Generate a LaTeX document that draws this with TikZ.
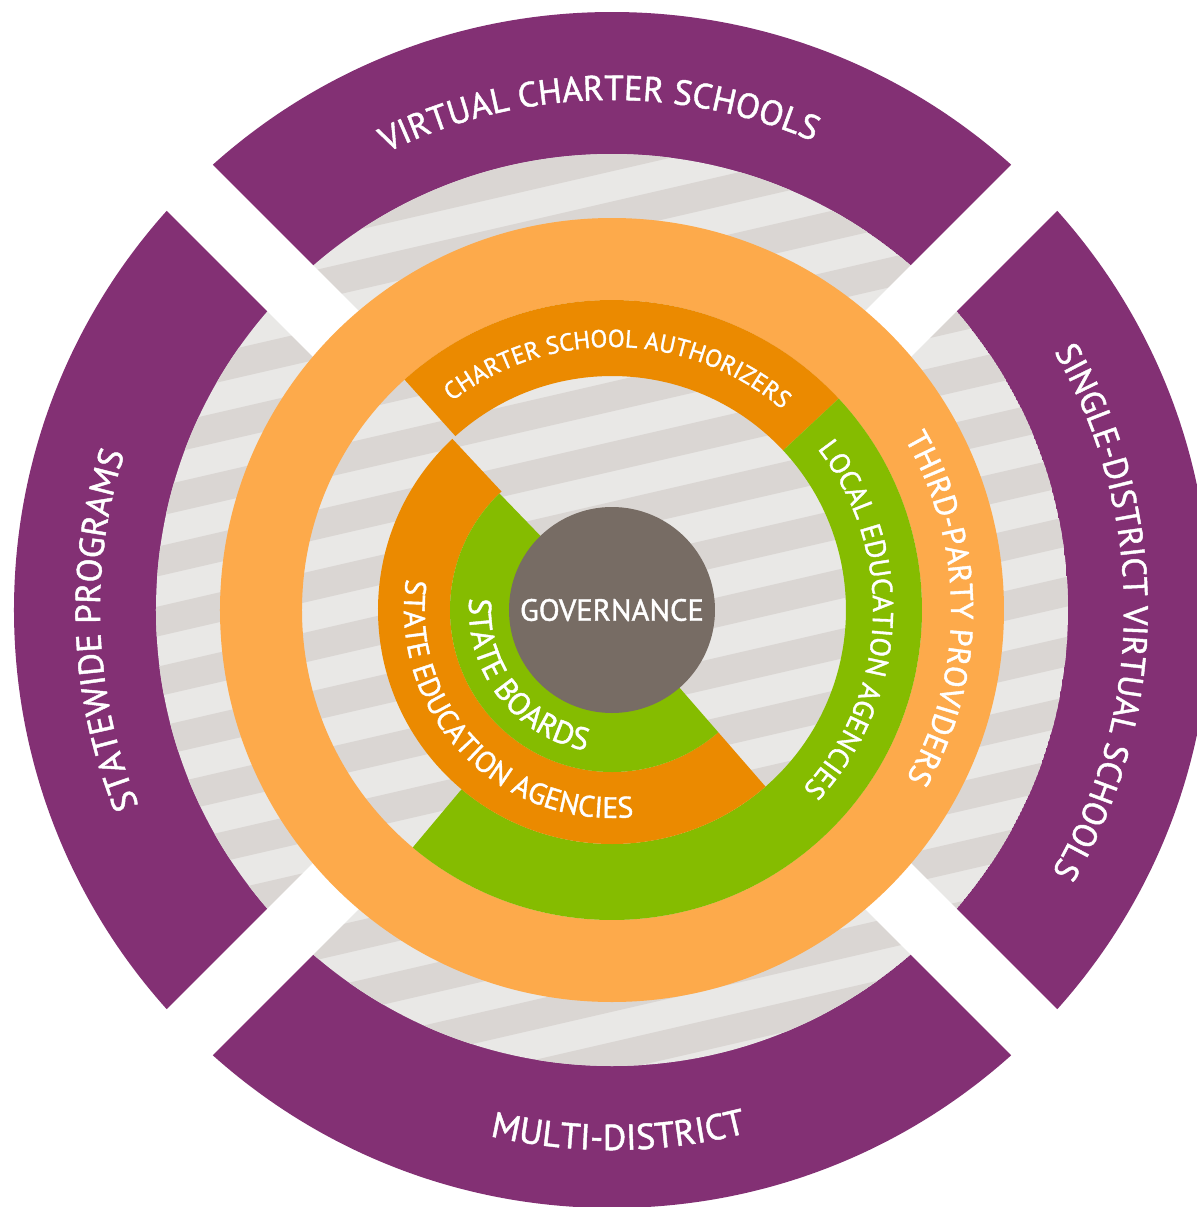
\documentclass[tikz,border=0pt]{standalone}
\usepackage{fontspec}
\setmainfont{PT Sans}[FakeBold=1.3]
\usepackage{xcolor}
\usetikzlibrary{decorations.text}

\definecolor{plum}{HTML}{833074}
\definecolor{apricot}{HTML}{FDAA4B}
\definecolor{amber}{HTML}{EB8A00}
\definecolor{leaf}{HTML}{85BC00}
\definecolor{taupe}{HTML}{776C64}
\definecolor{stripeLight}{HTML}{E9E8E6}
\definecolor{stripeDark}{HTML}{DAD6D3}

\begin{document}
\begin{tikzpicture}[x=0.5pt, y=0.5pt]

\tikzset
  {
    myGap/.style=    {white, line width=32.5pt},
    myArcText/.style={decorate, decoration={text along path, text align=center, text color=white, text={#1}}}
  }

\useasboundingbox (-612,-597) rectangle (585,610);
\fill[white] (-612,-597) rectangle (585,610);

% purple ring
\fill[plum] (0,0) circle (598);

% striped disk
\begin{scope}
\clip (0,0) circle (456);
\fill[stripeLight] (0,0) circle (456);
\begin{scope}[rotate=13]
\foreach \k in {-9,...,9}
\fill[stripeDark] (-480,18+58.5*\k) rectangle (480,47+58.5*\k);
\end{scope}
\end{scope}

% gaps
\foreach \a in {45,135,225,315}
\draw[myGap] (\a:380) -- (\a:700);

% third-party providers
\fill[apricot, even odd rule] (0,0) circle (392) circle (310);

% charter / local
\fill[amber] (43:234) arc[start angle=43, end angle=132, radius=234] -- (132:310) arc[start angle=132, end angle=43, radius=310] -- cycle;
\fill[leaf] (-130:234) arc[start angle=-130, end angle=43, radius=234] -- (43:310) arc[start angle=43, end angle=-130, radius=310] -- cycle;

% state agencies / boards
\fill[amber] (133:162) arc[start angle=133, end angle=311, radius=162] -- (311:234) arc[start angle=311, end angle=133, radius=234] -- cycle;
\fill[leaf] (134:95) arc[start angle=134, end angle=311, radius=95] -- (311:162) arc[start angle=311, end angle=134, radius=162] -- cycle;

\node[circle, fill=taupe, minimum size=103pt, inner sep=0pt, text=white, font=\fontsize{15.3}{18}\selectfont] (gov) at (0,0) {GOVERNANCE};

% outer labels
\path[myArcText={|\fontsize{17.5}{20}\selectfont|VIRTUAL CHARTER SCHOOLS}] (141.5:510) arc[start angle=141.5, end angle=41.5, radius=510];
\path[myArcText={|\fontsize{17}{20}\selectfont|SINGLE-DISTRICT VIRTUAL SCHOOLS}] (49.75:512) arc[start angle=49.75, end angle=-50.25, radius=512];
\path[myArcText={|\fontsize{18}{20}\selectfont|MULTI-DISTRICT}] (220.7:540) arc[start angle=220.7, end angle=320.7, radius=540];
\path[myArcText={|\fontsize{17.5}{20}\selectfont|STATEWIDE PROGRAMS}] (232.3:512) arc[start angle=232.3, end angle=132.3, radius=512];

% inner labels
\path[myArcText={|\fontsize{12.3}{14}\selectfont|CHARTER SCHOOL AUTHORIZERS}] (148.6:263) arc[start angle=148.6, end angle=28.6, radius=263];
\path[myArcText={|\fontsize{15.8}{18}\selectfont|THIRD-PARTY PROVIDERS}] (60.3:339) arc[start angle=60.3, end angle=-59.7, radius=339];
\path[myArcText={|\fontsize{14.3}{16}\selectfont|LOCAL EDUCATION AGENCIES}] (67.5:261) arc[start angle=67.5, end angle=-72.5, radius=261];
\path[myArcText={|\fontsize{14.8}{16}\selectfont|STATE EDUCATION AGENCIES}] (143.7:208) arc[start angle=143.7, end angle=303.7, radius=208];
\path[myArcText={|\fontsize{15.8}{18}\selectfont|STATE BOARDS}] (137.4:143) arc[start angle=137.4, end angle=297.4, radius=143];

\end{tikzpicture}
\end{document}
